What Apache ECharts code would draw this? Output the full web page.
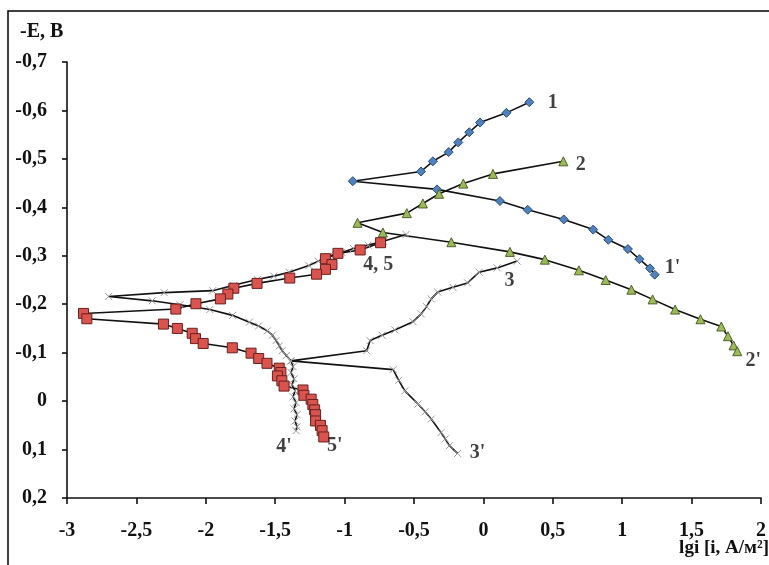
<!DOCTYPE html>
<html>
<head>
<meta charset="utf-8">
<script src="https://cdn.jsdelivr.net/npm/echarts@6/dist/echarts.min.js"></script>
<style>
  html, body { margin: 0; padding: 0; background: #fff; }
  #chart { width: 769px; height: 565px; }
</style>
</head>
<body>
<div id="chart"></div>
<script>
// lg i, -E pairs
var curve1 = [
  [0.331, -0.617], [0.166, -0.595], [-0.024, -0.575], [-0.102, -0.555], [-0.181, -0.534],
  [-0.25, -0.514], [-0.364, -0.495], [-0.45, -0.474], [-0.941, -0.454], [-0.334, -0.437],
  [0.119, -0.413], [0.319, -0.395], [0.579, -0.375], [0.791, -0.354], [0.9, -0.333],
  [1.041, -0.314], [1.124, -0.293], [1.2, -0.274], [1.234, -0.261]
];
var curve2 = [
  [0.576, -0.495], [0.069, -0.469], [-0.145, -0.449], [-0.319, -0.428], [-0.436, -0.408],
  [-0.552, -0.388], [-0.907, -0.368], [-0.724, -0.348], [-0.231, -0.328], [0.191, -0.308],
  [0.443, -0.292], [0.688, -0.270], [0.881, -0.250], [1.066, -0.230], [1.219, -0.210],
  [1.381, -0.189], [1.564, -0.169], [1.714, -0.154], [1.762, -0.134], [1.802, -0.115],
  [1.829, -0.103]
];
var curve3 = [
  [0.243, -0.289], [0.1, -0.275], [-0.031, -0.266], [-0.114, -0.244], [-0.22, -0.235],
  [-0.329, -0.225], [-0.376, -0.211], [-0.41, -0.195], [-0.448, -0.180], [-0.507, -0.164],
  [-0.638, -0.147], [-0.73, -0.136], [-0.816, -0.125], [-0.841, -0.104], [-1.388, -0.083],
  [-0.65, -0.065], [-0.61, -0.043], [-0.566, -0.021], [-0.471, 0.006], [-0.42, 0.022],
  [-0.376, 0.037], [-0.305, 0.065], [-0.275, 0.078], [-0.245, 0.092], [-0.186, 0.108]
];
var curve4 = [
  [-0.557, -0.344], [-0.721, -0.330], [-0.83, -0.322], [-0.936, -0.315], [-1.02, -0.307],
  [-1.114, -0.299], [-1.19, -0.289], [-1.257, -0.280], [-1.4, -0.266], [-1.51, -0.258],
  [-1.629, -0.251], [-1.8, -0.239], [-1.95, -0.228], [-2.3, -0.224], [-2.7, -0.216],
  [-2.386, -0.207], [-2.186, -0.199], [-1.971, -0.189], [-1.807, -0.177], [-1.686, -0.163],
  [-1.62, -0.155], [-1.557, -0.145], [-1.52, -0.136], [-1.493, -0.125], [-1.47, -0.114],
  [-1.45, -0.104], [-1.42, -0.094], [-1.386, -0.083], [-1.371, -0.071], [-1.386, -0.059],
  [-1.364, -0.046], [-1.379, -0.034], [-1.357, -0.021], [-1.371, -0.009], [-1.35, 0.003],
  [-1.364, 0.016], [-1.343, 0.028], [-1.357, 0.041], [-1.343, 0.053], [-1.35, 0.061]
];
var curve5 = [
  [-0.741, -0.327], [-0.888, -0.312], [-1.048, -0.305], [-1.138, -0.294], [-1.091, -0.282],
  [-1.138, -0.272], [-1.202, -0.262], [-1.395, -0.254], [-1.631, -0.243], [-1.798, -0.233],
  [-1.841, -0.221], [-1.895, -0.211], [-2.071, -0.201], [-2.216, -0.190], [-2.881, -0.181],
  [-2.857, -0.170], [-2.305, -0.159], [-2.205, -0.150], [-2.098, -0.140], [-2.074, -0.129],
  [-2.019, -0.119], [-1.809, -0.110], [-1.674, -0.099], [-1.619, -0.088], [-1.559, -0.078],
  [-1.471, -0.068], [-1.459, -0.059], [-1.484, -0.052], [-1.452, -0.042], [-1.436, -0.031],
  [-1.3, -0.023], [-1.293, -0.012], [-1.241, -0.004], [-1.229, 0.007], [-1.216, 0.018],
  [-1.209, 0.028], [-1.209, 0.041], [-1.174, 0.050], [-1.162, 0.061], [-1.15, 0.074]
];
// curve labels: name, lg i, -E
var labelNames = ['1', '2', "1'", "2'", '4, 5', '3', "3'", "4'", "5'"];
var labelX = [0.5, 0.702, 1.362, 1.945, -0.757, 0.188, -0.043, -1.436, -1.071];
var labelY = [-0.616, -0.487, -0.275, -0.083, -0.282, -0.249, 0.106, 0.095, 0.092];

var serif = '"Liberation Serif", "Times New Roman", serif';

function comma(v) {
  var r = Math.round(v * 10) / 10;
  return String(r).replace('.', ',');
}

var labelData = labelNames.map(function(n, i) {
  return { name: n, value: [labelX[i], labelY[i]] };
});

var cross = 'path://M0,0L10,10M10,0L0,10';

function lineSeries(data, symbol, size, fill, border, bw) {
  return {
    type: 'line',
    data: data,
    symbol: symbol,
    symbolSize: size,
    showAllSymbol: true,
    smooth: false,
    animation: false,
    lineStyle: { color: '#111', width: 1.6 },
    itemStyle: { color: fill, borderColor: border, borderWidth: bw, opacity: 1 },
    z: 3
  };
}

var chart = echarts.init(document.getElementById('chart'));
chart.setOption({
  animation: false,
  backgroundColor: '#fff',
  grid: { left: 67, right: 2, top: 62, bottom: 67 },
  graphic: [
    { type: 'rect', shape: { x: 8, y: 11, width: 900, height: 700 },
      style: { fill: 'none', stroke: '#000', lineWidth: 1.5 }, silent: true },
    { type: 'text', left: 20, top: 22,
      style: { text: '-E, B', font: 'bold 20px ' + serif, fill: '#111' } },
    { type: 'text', right: 0, top: 539,
      style: { text: 'lgi [i, A/м²]', font: 'bold 19px ' + serif, fill: '#111' } }
  ],
  xAxis: {
    type: 'value',
    min: -3, max: 2, interval: 0.5,
    axisLine: { onZero: false, lineStyle: { color: '#111', width: 1.6 } },
    axisTick: { show: true, length: 6, lineStyle: { color: '#111', width: 1.6 } },
    splitLine: { show: false },
    axisLabel: { formatter: comma, color: '#111', fontFamily: serif, fontWeight: 'bold', fontSize: 20, margin: 23 }
  },
  yAxis: {
    type: 'value',
    inverse: true,
    min: -0.7, max: 0.2, interval: 0.1,
    axisLine: { show: true, onZero: false, lineStyle: { color: '#111', width: 1.6 } },
    axisTick: { show: true, length: 5, lineStyle: { color: '#111', width: 1.6 } },
    splitLine: { show: false },
    axisLabel: { formatter: comma, color: '#111', fontFamily: serif, fontWeight: 'bold', fontSize: 20, margin: 20 }
  },
  series: [
    lineSeries(curve3, cross, 7, '#999', '#999', 1),
    lineSeries(curve4, cross, 7, '#999', '#999', 1),
    lineSeries(curve1, 'diamond', 9, '#4f81bd', '#2c4d75', 1),
    lineSeries(curve2, 'triangle', 9, '#9bbb59', '#4f6228', 1),
    lineSeries(curve5, 'rect', 10, '#d9534f', '#6b1f1d', 1),
    {
      type: 'scatter',
      data: labelData,
      symbolSize: 0,
      animation: false,
      silent: true,
      label: {
        show: true, position: 'inside', formatter: '{b}',
        color: '#111', fontFamily: serif, fontWeight: 'bold', fontSize: 20
      },
      z: 5
    }
  ]
});
</script>
</body>
</html>
